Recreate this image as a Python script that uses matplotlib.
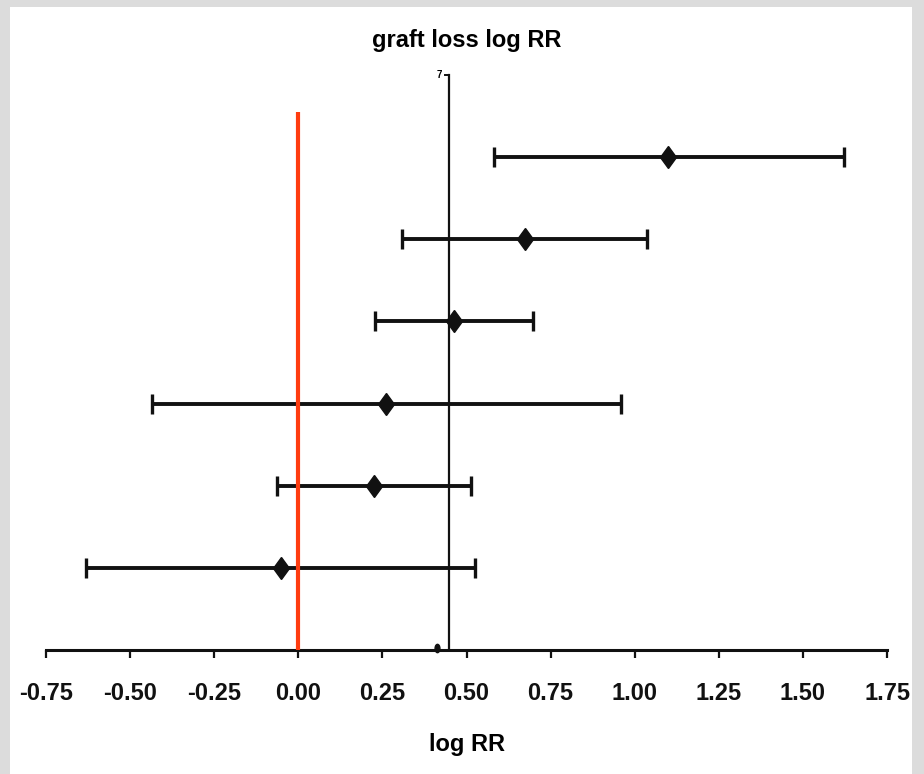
import matplotlib
matplotlib.use("Agg")
import matplotlib.pyplot as plt
from matplotlib import font_manager
from matplotlib.patches import Rectangle
from matplotlib.markers import MarkerStyle
from matplotlib.transforms import Affine2D

# ---- data ----
rows = [6, 5, 4, 3, 2, 1]
estimates = [1.100, 0.675, 0.462, 0.262, 0.225, -0.051]
lower = [0.582, 0.309, 0.227, -0.434, -0.064, -0.630]
upper = [1.622, 1.038, 0.698, 0.958, 0.514, 0.524]
xticks = [-0.75, -0.50, -0.25, 0.00, 0.25, 0.50, 0.75, 1.00, 1.25, 1.50, 1.75]
xtick_labels = ["-0.75", "-0.50", "-0.25", "0.00", "0.25", "0.50", "0.75",
                "1.00", "1.25", "1.50", "1.75"]
yaxis_pos = 0.448
ytop = 7
ref_line_x = 0.0
ref_line_top = 6.55
title = "graft loss log RR"
xlabel = "log RR"

# ---- font ----
def pick(fams):
    for f in fams:
        try:
            font_manager.findfont(font_manager.FontProperties(family=f), fallback_to_default=False)
            return f
        except Exception:
            pass
    return "DejaVu Sans"
fam = pick(["Liberation Sans Narrow", "Liberation Sans", "DejaVu Sans"])

W, H = 924, 774
fig = plt.figure(figsize=(W / 100, H / 100), dpi=100, facecolor="#dcdcdc")
fig.patches.append(Rectangle((10 / W, 0), (912 - 10) / W, (774 - 7) / H,
                             transform=fig.transFigure, facecolor="white",
                             edgecolor="none", zorder=-10))

left, right = 46 / W, 887 / W
bottom, top = (H - 650) / H, (H - 75) / H
ax = fig.add_axes([left, bottom, right - left, top - bottom])
ax.set_zorder(5)
ax.patch.set_alpha(0)
ax.set_xlim(-0.75, 1.75)
ax.set_ylim(0, 7)
for s in ["top", "right", "left"]:
    ax.spines[s].set_visible(False)
ax.spines["bottom"].set_linewidth(2.2)
ax.spines["bottom"].set_color("#111111")
ax.set_yticks([])
ax.set_xticks(xticks)
ax.set_xticklabels(xtick_labels, fontfamily=fam, fontweight="bold", fontsize=17)
ax.tick_params(axis="x", length=6, width=1.6, pad=17, colors="#111111")

# vertical axis line with top tick
ax.plot([yaxis_pos, yaxis_pos], [0, ytop], color="#111111", lw=1.6, clip_on=False, zorder=2)
ax.plot([yaxis_pos - 0.012, yaxis_pos], [ytop, ytop], color="#111111", lw=1.4, clip_on=False)
ax.text(yaxis_pos - 0.03, ytop, "7", fontsize=7, fontfamily=fam, fontweight="bold",
        ha="center", va="center")
ax.plot([0.413], [0.02], marker=MarkerStyle("o", transform=Affine2D().scale(0.7, 1.2)),
        ms=5, mfc="#111111", mec="#111111", clip_on=False)

# red reference line
ax.plot([ref_line_x, ref_line_x], [0, ref_line_top], color="#ff3c0f", lw=3.0, zorder=4,
        solid_capstyle="butt")

# error bars
diamond = MarkerStyle("D", transform=Affine2D().scale(0.75, 1.0))
xerr = [[e - l for e, l in zip(estimates, lower)], [u - e for e, u in zip(estimates, upper)]]
ax.errorbar(estimates, rows, xerr=xerr, fmt="none", ecolor="#111111",
            elinewidth=2.8, capsize=7, capthick=2.4, zorder=3)
ax.plot(estimates, rows, linestyle="none", marker=diamond, ms=11,
        mfc="#111111", mec="#111111", zorder=3.5)

fig.text(467 / W, 1 - 40 / H, title, ha="center", va="center", fontsize=17,
         fontfamily=fam, fontweight="bold")
fig.text(467 / W, 1 - 745 / H, xlabel, ha="center", va="center", fontsize=17,
         fontfamily=fam, fontweight="bold")

fig.savefig("out.png", dpi=100, facecolor=fig.get_facecolor())
